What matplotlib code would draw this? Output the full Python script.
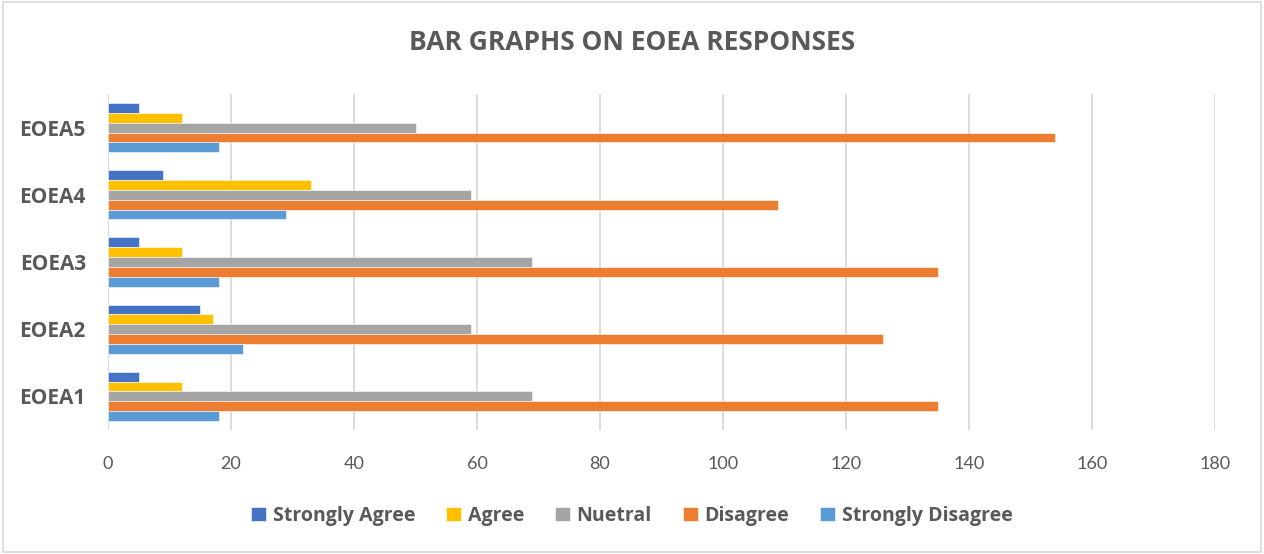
import numpy as np
import matplotlib.pyplot as plt
from matplotlib.patches import Rectangle

plt.rcParams['font.family'] = ['Lato', 'DejaVu Sans']
bold_font = ['Open Sans', 'DejaVu Sans']

# data
categories = ['EOEA1', 'EOEA2', 'EOEA3', 'EOEA4', 'EOEA5']
series = ['Strongly Agree', 'Agree', 'Nuetral', 'Disagree', 'Strongly Disagree']
strongly_agree = [5, 15, 5, 9, 5]
agree = [12, 17, 12, 33, 12]
neutral = [69, 59, 69, 59, 50]
disagree = [135, 126, 135, 109, 154]
strongly_disagree = [18, 22, 18, 29, 18]
xticks = [0, 20, 40, 60, 80, 100, 120, 140, 160, 180]

values = [strongly_agree, agree, neutral, disagree, strongly_disagree]
colors = ['#4472C4', '#FFC000', '#A5A5A5', '#ED7D31', '#5B9BD5']
text_col = '#595959'

fig = plt.figure(figsize=(12.64, 5.54), dpi=100)
ax = fig.add_axes([108 / 1264, 1 - 430 / 554, (1215 - 108) / 1264, (430 - 94) / 554])

y = np.arange(len(categories))
h = 0.146
for i, (name, vals, c) in enumerate(zip(series, values, colors)):
    # first series on top of each group
    off = (2 - i) * h
    ax.barh(y + off, vals, height=h, color=c, edgecolor='white', linewidth=0.4, label=name, zorder=3)

ax.set_ylim(-0.5, len(categories) - 0.5)
ax.set_xlim(0, 180)
ax.set_xticks(xticks)
ax.set_xticklabels([str(t) for t in xticks], fontsize=13, color=text_col)
ax.set_yticks(y)
ax.set_yticklabels(categories, fontsize=15, fontweight='bold', color=text_col, family=bold_font)
ax.tick_params(axis='both', length=0)
ax.tick_params(axis='x', pad=19)
ax.tick_params(axis='y', pad=16)
ax.grid(axis='x', color='#D9D9D9', linewidth=1.3, zorder=0)
for s in ax.spines.values():
    s.set_visible(False)

fig.text(0.5, 1 - 43 / 554, 'BAR GRAPHS ON EOEA RESPONSES', ha='center', va='center',
         fontsize=19, fontweight='bold', color=text_col, family=bold_font)

handles, labels = ax.get_legend_handles_labels()
leg = fig.legend(handles, labels, loc='center', bbox_to_anchor=(0.5, 1 - 516 / 554), ncol=5,
                 frameon=False, handlelength=0.75, handleheight=0.75, handletextpad=0.35,
                 columnspacing=1.6, prop={'size': 14, 'weight': 'bold', 'family': bold_font})
for t in leg.get_texts():
    t.set_color(text_col)

# chart border
fig.patches.append(Rectangle((0.002, 0.003), 0.996, 0.994, transform=fig.transFigure,
                             fill=False, edgecolor='#D9D9D9', linewidth=1.2))

plt.savefig('out.png', dpi=100)
